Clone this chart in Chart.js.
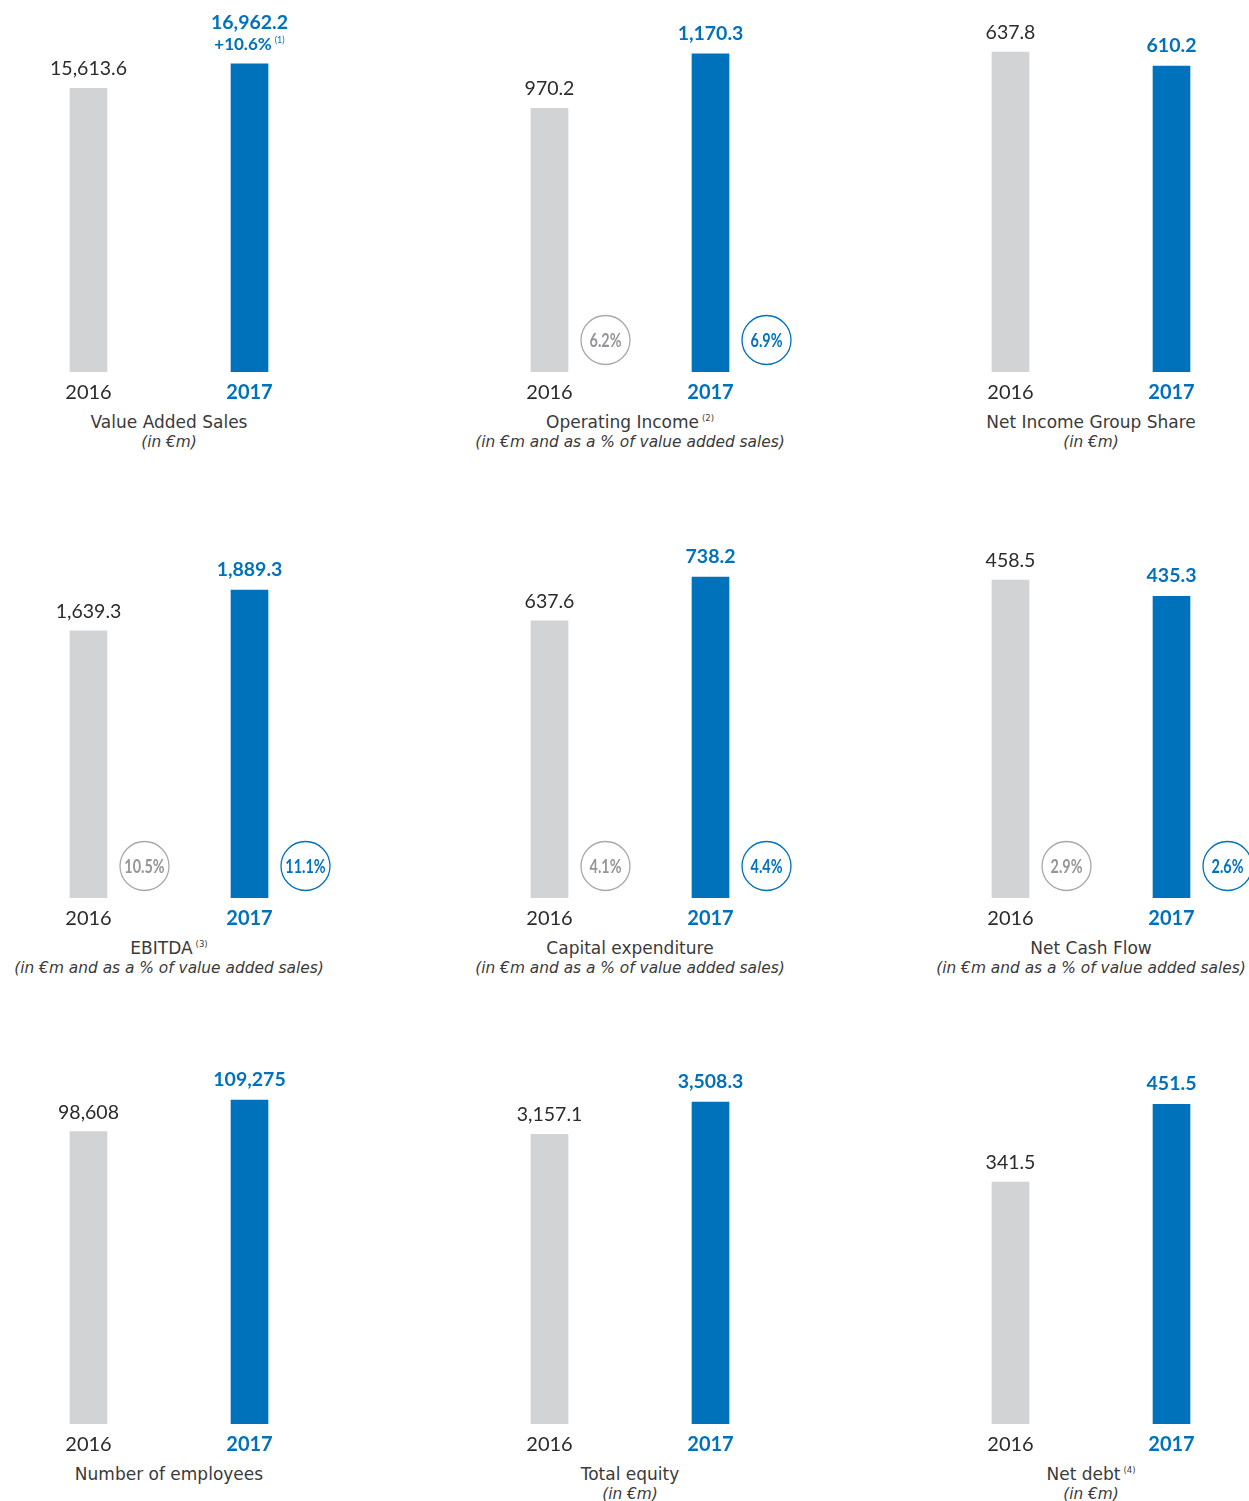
<!DOCTYPE html>
<html>
<head>
<meta charset="utf-8">
<script src="https://cdn.jsdelivr.net/npm/chart.js@4"></script>
<style>
  html, body { margin: 0; padding: 0; background: #fff; }
  #page { position: relative; width: 1249px; height: 1501px; overflow: hidden; }
  .panel { position: absolute; width: 461px; height: 526px; }
  .chart-box { position: absolute; left: 0; top: 0; width: 461px; height: 410px; }
  .title, .subtitle { position: absolute; left: 0; width: 338px; text-align: center; white-space: nowrap; color: #3a3a3a; font-family: "DejaVu Sans", sans-serif; }
  .title { top: 411px; font-size: 17px; line-height: 22px; }
  .title sup { font-size: 8.5px; vertical-align: 7px; line-height: 0; margin-left: 3px; }
  .subtitle { top: 432px; font-size: 15.4px; line-height: 20px; font-style: italic; }
</style>
</head>
<body>
<div id="page"></div>
<script>
// --- données ---
const years = ['2016', '2017'];
const chartTitles = ['Value Added Sales', 'Operating Income', 'Net Income Group Share',
    'EBITDA', 'Capital expenditure', 'Net Cash Flow',
    'Number of employees', 'Total equity', 'Net debt'];
const titleNotes = ['', '(2)', '', '(3)', '', '', '', '', '(4)'];
const subtitles = ['(in €m)', '(in €m and as a % of value added sales)', '(in €m)',
    '(in €m and as a % of value added sales)', '(in €m and as a % of value added sales)', '(in €m and as a % of value added sales)',
    '', '(in €m)', '(in €m)'];
const values2016 = [15613.6, 970.2, 637.8, 1639.3, 637.6, 458.5, 98608, 3157.1, 341.5];
const values2017 = [16962.2, 1170.3, 610.2, 1889.3, 738.2, 435.3, 109275, 3508.3, 451.5];
const decimals = [1, 1, 1, 1, 1, 1, 0, 1, 1];
const pct2016 = [null, 6.2, null, 10.5, 4.1, 2.9, null, null, null];
const pct2017 = [null, 6.9, null, 11.1, 4.4, 2.6, null, null, null];
const growthLabel = ['+10.6%', '', '', '', '', '', '', '', ''];
const growthNote = ['(1)', '', '', '', '', '', '', '', ''];
const scaleMax = [18170, 1214, 658, 2024, 759, 476, 111300, 3596, 466];

const GREY = '#D1D3D4';
const BLUE = '#0072BC';
const DARK = '#2b2b2b';
const FONT = 'Lato, "Open Sans", sans-serif';

function fmt(v, d) {
    return v.toLocaleString('en-US', { minimumFractionDigits: d, maximumFractionDigits: d });
}

// Étiquettes de valeurs et cercles de pourcentage
function labelsPlugin(i) {
    return {
        id: 'labels' + i,
        afterDatasetsDraw(chart) {
            const ctx = chart.ctx;
            const bars = chart.getDatasetMeta(0).data;
            const bottom = chart.chartArea.bottom;
            ctx.save();
            ctx.textAlign = 'center';
            ctx.textBaseline = 'alphabetic';

            // 2016
            ctx.fillStyle = DARK;
            ctx.font = '19.5px ' + FONT;
            ctx.fillText(fmt(values2016[i], decimals[i]), bars[0].x, bars[0].y - 13);

            // 2017
            let y = bars[1].y - 14;
            if (growthLabel[i]) {
                ctx.fillStyle = BLUE;
                ctx.font = 'bold 17px ' + FONT;
                const w1 = ctx.measureText(growthLabel[i]).width;
                ctx.font = '9px ' + FONT;
                const w2 = ctx.measureText(growthNote[i]).width;
                const x0 = bars[1].x - (w1 + w2 + 3) / 2;
                ctx.textAlign = 'left';
                ctx.font = 'bold 17px ' + FONT;
                ctx.fillText(growthLabel[i], x0, y);
                ctx.font = '9px ' + FONT;
                ctx.fillText(growthNote[i], x0 + w1 + 3, y - 7);
                ctx.textAlign = 'center';
                y -= 21;
            }
            ctx.fillStyle = BLUE;
            ctx.font = 'bold 19.5px ' + FONT;
            ctx.fillText(fmt(values2017[i], decimals[i]), bars[1].x, y);

            // cercles
            const pcts = [pct2016[i], pct2017[i]];
            pcts.forEach((p, k) => {
                if (p === null) return;
                const cx = bars[k].x + 56;
                const cy = bottom - 32;
                ctx.beginPath();
                ctx.arc(cx, cy, 24.5, 0, Math.PI * 2);
                ctx.lineWidth = 1.3;
                ctx.strokeStyle = k ? BLUE : '#A7A9AC';
                ctx.stroke();
                ctx.fillStyle = k ? BLUE : '#939598';
                ctx.font = 'bold 18px ' + FONT;
                ctx.textBaseline = 'middle';
                // texte condensé
                ctx.save();
                ctx.translate(cx, cy + 1);
                ctx.scale(0.8, 1);
                ctx.fillText(p.toFixed(1) + '%', 0, 0);
                ctx.restore();
                ctx.textBaseline = 'alphabetic';
            });
            ctx.restore();
        }
    };
}

const page = document.getElementById('page');

chartTitles.forEach((title, i) => {
    const col = i % 3, row = Math.floor(i / 3);
    const panel = document.createElement('div');
    panel.className = 'panel';
    panel.style.left = (col * 461) + 'px';
    panel.style.top = (row * 526) + 'px';

    const box = document.createElement('div');
    box.className = 'chart-box';
    const canvas = document.createElement('canvas');
    box.appendChild(canvas);
    panel.appendChild(box);

    const t = document.createElement('div');
    t.className = 'title';
    t.textContent = title;
    if (titleNotes[i]) {
        const s = document.createElement('sup');
        s.textContent = titleNotes[i];
        t.appendChild(s);
    }
    panel.appendChild(t);

    if (subtitles[i]) {
        const st = document.createElement('div');
        st.className = 'subtitle';
        st.textContent = subtitles[i];
        panel.appendChild(st);
    }
    page.appendChild(panel);

    new Chart(canvas, {
        type: 'bar',
        data: {
            labels: years,
            datasets: [{
                data: [values2016[i], values2017[i]],
                backgroundColor: [GREY, BLUE],
                borderWidth: 0,
                barThickness: 37
            }]
        },
        options: {
            responsive: true,
            maintainAspectRatio: false,
            animation: false,
            layout: { padding: { left: 8, right: 131, top: 42, bottom: 0 } },
            plugins: { legend: { display: false }, tooltip: { enabled: false } },
            scales: {
                x: {
                    grid: { display: false, drawTicks: false },
                    border: { display: false },
                    afterFit: (scale) => { scale.height = 38; },
                    ticks: {
                        padding: 9,
                        color: (c) => c.index ? BLUE : DARK,
                        font: (c) => ({ family: FONT, size: 20, weight: c.index ? 'bold' : 'normal' })
                    }
                },
                y: { display: false, min: 0, max: scaleMax[i] }
            }
        },
        plugins: [labelsPlugin(i)]
    });
});
</script>
</body>
</html>
